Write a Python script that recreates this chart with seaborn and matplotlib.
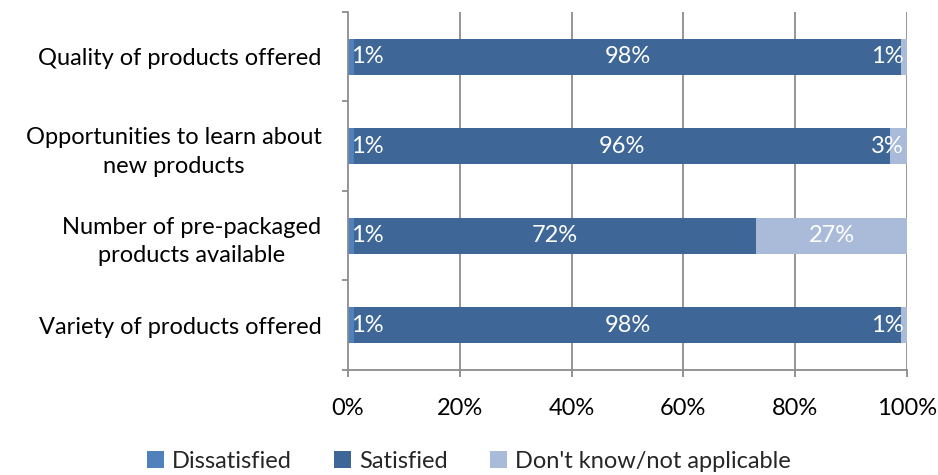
import numpy as np
import pandas as pd
import matplotlib
matplotlib.use("Agg")
import matplotlib.pyplot as plt
import seaborn as sns
from matplotlib.patches import Patch

categories = [
    "Quality of products offered",
    "Opportunities to learn about\nnew products",
    "Number of pre-packaged\nproducts available",
    "Variety of products offered",
]
dissatisfied = [1, 1, 1, 1]
satisfied = [98, 96, 72, 98]
dont_know = [1, 3, 27, 1]
series_names = ["Dissatisfied", "Satisfied", "Don't know/not applicable"]
series_colors = ["#4F81BD", "#3E6797", "#AABBD9"]
x_ticks = [0, 20, 40, 60, 80, 100]
x_tick_labels = ["0%", "20%", "40%", "60%", "80%", "100%"]

sns.set_theme(style="white")
plt.rcParams["font.family"] = ["Lato", "DejaVu Sans"]

FS = 17

df = pd.DataFrame({
    "category": categories,
    "Dissatisfied": dissatisfied,
    "Satisfied": satisfied,
    "Don't know/not applicable": dont_know,
})
# cumulative right edges of each stacked segment
cum = df[series_names].cumsum(axis=1)

fig = plt.figure(figsize=(9.38, 4.75), dpi=100)
ax = fig.add_axes([0.371, 0.221, 0.596, 0.754])

grid_color = "#8C8C8C"
for x in x_ticks[1:]:
    ax.axvline(x, color=grid_color, lw=1.3, zorder=0)

# draw widest cumulative bar first so shorter ones sit on top
for name, color in reversed(list(zip(series_names, series_colors))):
    sns.barplot(x=cum[name], y=df["category"], orient="h", color=color,
                width=0.4, saturation=1, ax=ax, zorder=2, linewidth=0)

ax.set_xlim(0, 100)
ax.set_ylim(3.5, -0.5)
ax.set_xlabel("")
ax.set_ylabel("")

txt_kw = dict(color="white", fontsize=FS, va="center", textcoords="offset points", zorder=5)
for i in range(len(categories)):
    d, s, k = dissatisfied[i], satisfied[i], dont_know[i]
    ax.annotate(f"{d}%", xy=(0, i), xytext=(2.5, 0), ha="left", **txt_kw)
    ax.annotate(f"{s}%", xy=(d + s / 2, i), xytext=(0, 0), ha="center", **txt_kw)
    if k >= 10:
        ax.annotate(f"{k}%", xy=(d + s + k / 2, i), xytext=(0, 0), ha="center", **txt_kw)
    else:
        ax.annotate(f"{k}%", xy=(100, i), xytext=(-2.5, 0), ha="right", **txt_kw)

for side in ["top", "right"]:
    ax.spines[side].set_visible(False)
for side in ["left", "bottom"]:
    ax.spines[side].set_color(grid_color)
    ax.spines[side].set_linewidth(1.3)

ax.set_xticks(x_ticks)
ax.set_xticklabels(x_tick_labels)
ax.tick_params(axis="x", direction="out", length=5, width=1.3, color=grid_color,
               pad=15, labelsize=FS, labelcolor="black", bottom=True)
ax.set_yticks(range(len(categories)))
ax.set_yticklabels(categories, multialignment="center")
for lab in ax.get_yticklabels():
    lab.set_linespacing(1.45)
ax.tick_params(axis="y", length=0, pad=19, labelsize=FS, labelcolor="black")
ax.set_yticks(np.arange(-0.5, 4.0, 1.0), minor=True)
ax.tick_params(axis="y", which="minor", direction="out", length=4, width=1.3,
               color=grid_color, left=True)

handles = [Patch(facecolor=c, edgecolor="none", label=n) for n, c in zip(series_names, series_colors)]
fig.legend(handles=handles, loc="center", bbox_to_anchor=(0.5, 0.029), ncol=3,
           frameon=False, fontsize=FS, handlelength=0.7, handleheight=0.7,
           handletextpad=0.35, columnspacing=1.8)

fig.savefig("out.png", dpi=100)
